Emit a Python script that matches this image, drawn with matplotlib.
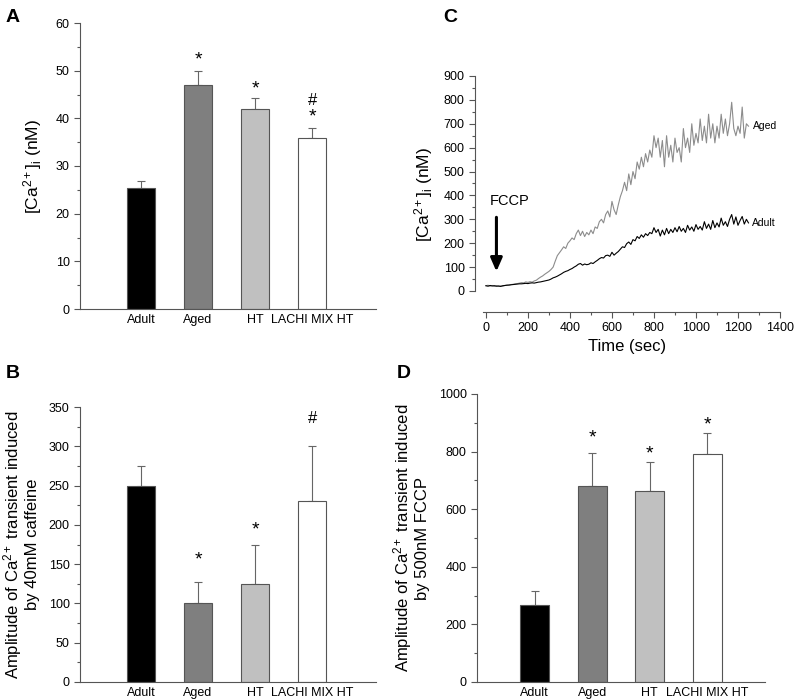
import matplotlib
matplotlib.use("Agg")
import matplotlib.pyplot as plt
import numpy as np

plt.rcParams['font.family'] = ['Liberation Sans', 'DejaVu Sans']
plt.rcParams['mathtext.fontset'] = 'custom'
plt.rcParams['mathtext.rm'] = 'Liberation Sans'
plt.rcParams['mathtext.it'] = 'Liberation Sans'

groups = ["Adult", "Aged", "HT", "LACHI MIX HT"]
bar_colors = ["#000000", "#7f7f7f", "#c0c0c0", "#ffffff"]

a_vals = [25.4, 47.0, 42.0, 35.8]
a_err = [1.5, 2.9, 2.2, 2.2]
a_marks = [[], ["*"], ["*"], ["*", "#"]]

b_vals = [250, 100, 125, 230]
b_err = [25, 27, 50, 70]
b_marks = [[], ["*"], ["*"], ["#"]]

d_vals = [267, 680, 663, 792]
d_err = [50, 115, 101, 74]
d_marks = [[], ["*"], ["*"], ["*"]]

time_s = list(range(0, 1260, 10))
aged_trace = [22, 24, 21, 23, 20, 22, 19, 21, 20, 23, 25, 24, 27, 28, 30, 31, 33, 35, 34, 38,
              36, 39, 37, 42, 45, 52, 58, 63, 70, 76, 82, 90, 100, 125, 148, 160, 172, 185, 178, 200,
              210, 222, 215, 240, 255, 232, 250, 228, 245, 235, 255, 240, 268, 262, 290, 300, 285, 320, 335, 310,
              375, 340, 320, 360, 395, 420, 455, 420, 490, 445, 500, 470, 540, 510, 560, 520, 575, 540, 590, 560,
              650, 600, 640, 560, 630, 520, 650, 560, 610, 540, 640, 580, 600, 540, 680, 600, 640, 580, 700, 610,
              660, 620, 720, 630, 690, 620, 740, 640, 700, 620, 690, 640, 740, 660, 720, 650, 700, 790, 680, 650,
              690, 660, 770, 640, 700, 690]
adult_trace = [22, 20, 23, 21, 22, 20, 21, 19, 22, 23, 24, 25, 26, 27, 28, 29, 30, 30, 31, 32,
               31, 33, 34, 33, 35, 37, 38, 40, 42, 44, 46, 50, 55, 58, 62, 67, 72, 78, 82, 85,
               90, 94, 100, 105, 112, 115, 108, 113, 110, 112, 118, 115, 122, 128, 135, 140, 138, 148, 150, 145,
               162, 150, 158, 165, 175, 185, 182, 198, 205, 195, 215, 210, 228, 220, 235, 225, 240, 232, 245, 240,
               265, 245, 258, 230, 255, 235, 262, 240, 258, 245, 265, 248, 270, 250, 262, 245, 275, 255, 268, 250,
               278, 258, 270, 255, 290, 262, 280, 258, 295, 265, 285, 268, 305, 275, 290, 270, 300, 320, 280, 310,
               275, 295, 312, 280, 300, 285]

W, H = 794, 700
fig = plt.figure(figsize=(W / 100, H / 100), dpi=100)


def ax_px(left, right, bottom, top):
    return fig.add_axes([left / W, 1 - bottom / H, (right - left) / W, (bottom - top) / H])


spine_col = "#555555"
tick_fs = 9


def style(ax):
    for s in ["top", "right"]:
        ax.spines[s].set_visible(False)
    for s in ["left", "bottom"]:
        ax.spines[s].set_color(spine_col)
        ax.spines[s].set_linewidth(0.8)
    ax.tick_params(direction="out", length=4, width=0.8, color=spine_col, labelsize=tick_fs)
    ax.tick_params(which="minor", direction="out", length=2.5, width=0.8, color=spine_col)


def bar_panel(ax, vals, err, marks, ymax, major, minor, mark_pos, xlim):
    x = np.arange(len(groups))
    ax.bar(x, vals, width=0.5, color=bar_colors, edgecolor="#555555", linewidth=0.8, zorder=2)
    ax.errorbar(x, vals, yerr=[np.zeros(len(vals)), err], fmt="none", ecolor="#666666",
                elinewidth=0.8, capsize=3, capthick=0.8, zorder=1)
    ax.set_ylim(0, ymax)
    ax.set_xlim(*xlim)
    ax.set_yticks(np.arange(0, ymax + 0.001, major))
    ax.set_yticks(np.arange(0, ymax + 0.001, minor), minor=True)
    ax.set_xticks(x)
    ax.set_xticklabels(groups, fontsize=tick_fs)
    style(ax)
    ax.tick_params(axis="x", length=0)
    for i, ms in enumerate(marks):
        for j, m in enumerate(ms):
            ax.text(x[i], mark_pos[i][j], m, ha="center", va="center",
                    fontsize=14 if m == "*" else 12, clip_on=False)


# Panel A
axA = ax_px(80, 376, 309, 23)
bar_panel(axA, a_vals, a_err, a_marks, 60, 10, 5,
          [[], [52.2], [46.1], [40.3, 43.8]], (-1.07, 4.12))
axA.set_ylabel("[Ca$^{2+}$]$_{\\mathregular{i}}$ (nM)", fontsize=12.5, labelpad=8)

# Panel B
axB = ax_px(80, 376, 682, 407)
bar_panel(axB, b_vals, b_err, b_marks, 350, 50, 25,
          [[], [155], [194], [335]], (-1.07, 4.12))
axB.set_ylabel("Amplitude of Ca$^{2+}$ transient induced\nby 40mM caffeine", fontsize=12,
               labelpad=6, linespacing=1.1)

# Panel D
axD = ax_px(477, 765, 682, 394)
bar_panel(axD, d_vals, d_err, d_marks, 1000, 200, 100,
          [[], [848], [793], [893]], (-1.0, 4.0))
axD.set_ylabel("Amplitude of Ca$^{2+}$ transient induced\nby 500nM FCCP", fontsize=12,
               labelpad=6, linespacing=1.1)

# Panel C
axC = ax_px(475, 780, 312, 76)
axC.plot(time_s, aged_trace, color="#8c8c8c", lw=0.8)
axC.plot(time_s, adult_trace, color="#000000", lw=0.8)
axC.set_xlim(-52, 1400)
axC.set_ylim(-88, 900)
axC.spines["left"].set_bounds(0, 900)
axC.spines["bottom"].set_bounds(-15, 1400)
axC.set_yticks(np.arange(0, 901, 100))
axC.set_yticks(np.arange(0, 901, 50), minor=True)
axC.set_xticks(np.arange(0, 1401, 200))
axC.set_xticks(np.arange(0, 1401, 100), minor=True)
style(axC)
axC.set_xlabel("Time (sec)", fontsize=12, labelpad=3)
axC.set_ylabel("[Ca$^{2+}$]$_{\\mathregular{i}}$ (nM)", fontsize=12.5, labelpad=6)
axC.text(1270, 690, "Aged", fontsize=7.5, va="center", ha="left")
axC.text(1265, 285, "Adult", fontsize=7.5, va="center", ha="left")
axC.text(20, 375, "FCCP", fontsize=10.5, va="center", ha="left")
axC.annotate("", xy=(50, 70), xytext=(50, 320),
             arrowprops=dict(arrowstyle="-|>,head_width=0.35,head_length=0.8", color="black", lw=2.2))

# Panel letters
for lbl, (px, py) in {"A": (6, 17), "C": (443, 17), "B": (6, 374), "D": (397, 374)}.items():
    fig.text(px / W, 1 - py / H, lbl, fontsize=14, fontweight="bold", va="center", ha="left")

fig.savefig("out.png", dpi=100)
